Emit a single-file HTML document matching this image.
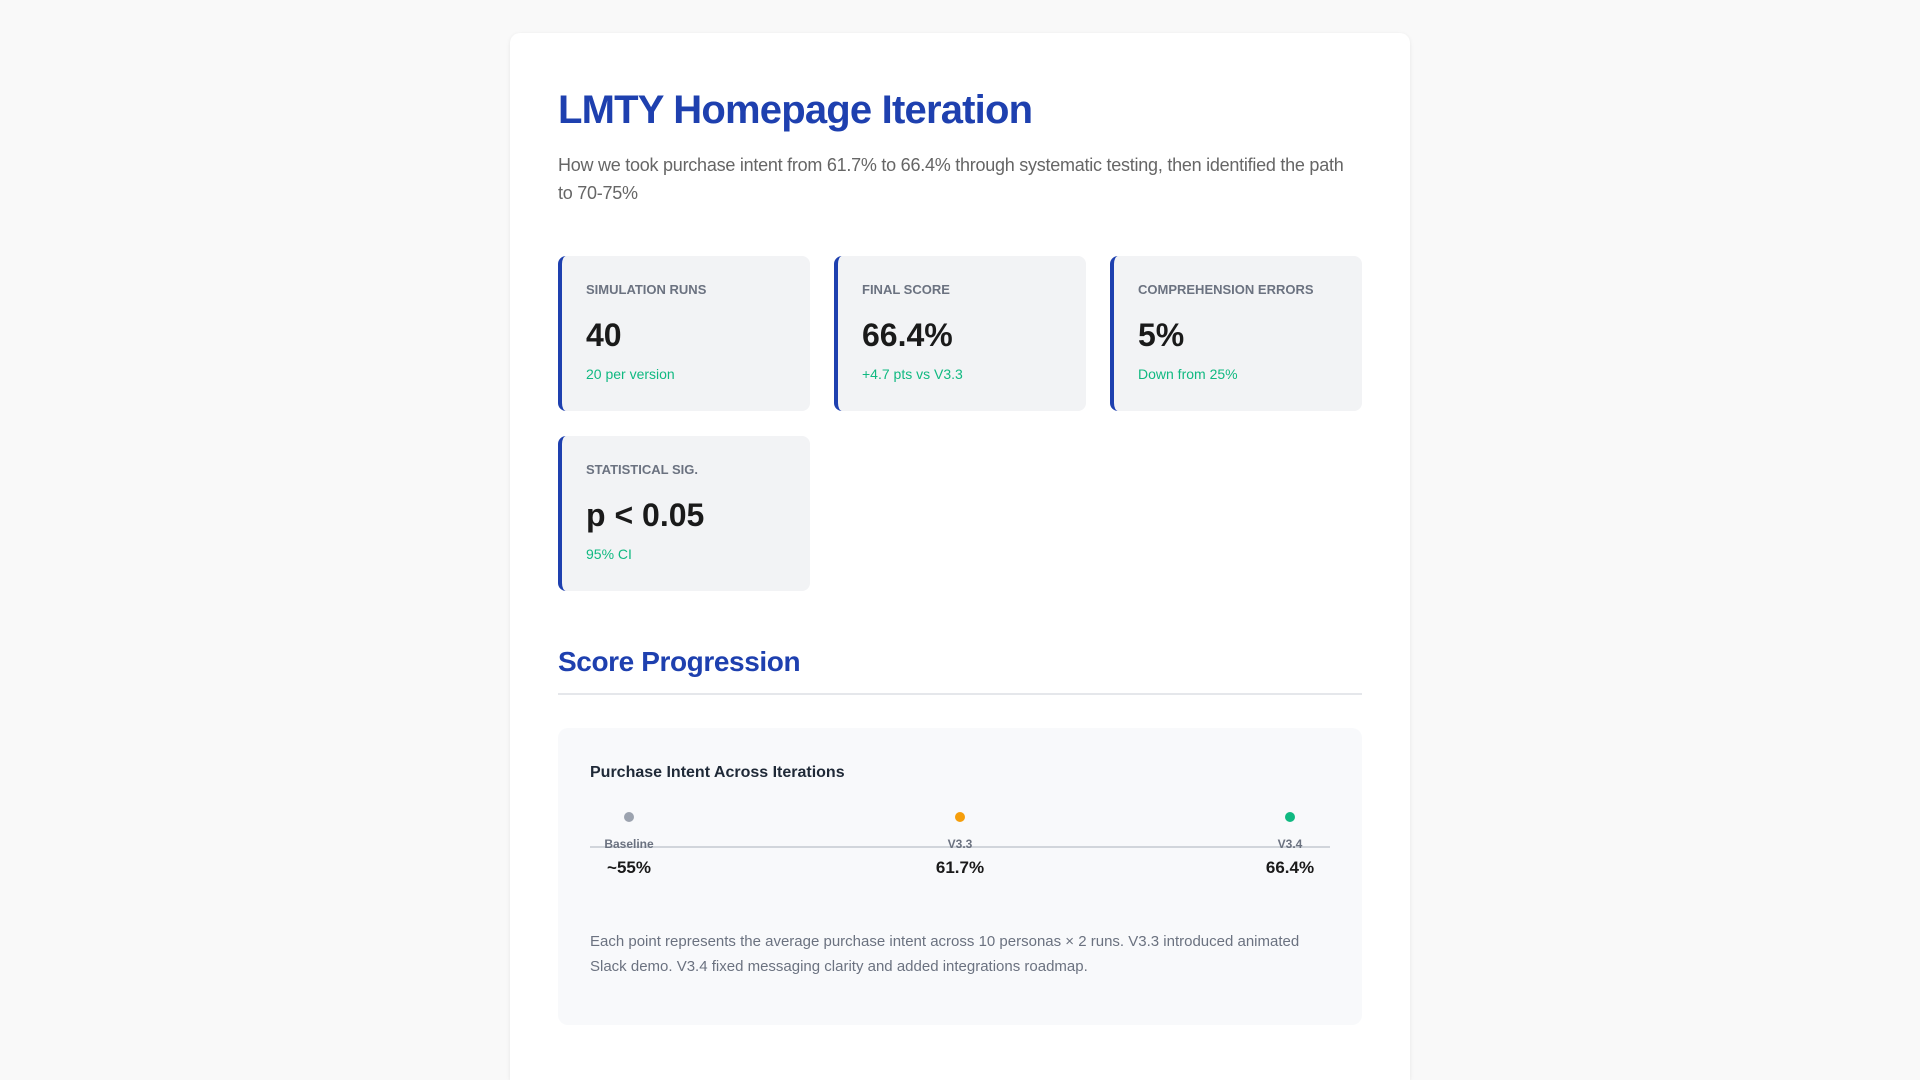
<!DOCTYPE html>
<html><head><meta charset="utf-8"><style>
*{box-sizing:border-box;margin:0;padding:0}
html,body{width:1920px;height:1080px;overflow:hidden}
body{background:#f9f9f9;font-family:"Liberation Sans",sans-serif;position:relative}
.card{position:absolute;left:510px;top:33px;width:900px;height:1047px;background:#fff;border-radius:10px 10px 0 0;box-shadow:0 1px 4px rgba(0,0,0,0.08);padding:0 48px;}
h1{position:absolute;left:48px;top:55px;font-size:40px;color:#1e40af;font-weight:bold;letter-spacing:-0.8px}
.sub{position:absolute;left:48px;top:118px;width:790px;font-size:18px;line-height:28px;color:#666;letter-spacing:-0.25px}
.stat{position:absolute;width:252px;height:155px;background:#f2f3f5;border-left:4px solid #1e40af;border-radius:8px;padding-left:24px}
.stat .l{position:absolute;top:26px;left:24px;font-size:13px;font-weight:bold;color:#6b7280}
.stat .v{position:absolute;top:61px;left:24px;font-size:32px;font-weight:bold;color:#1a1a1a}
.stat .s{position:absolute;top:110px;left:24px;font-size:14px;color:#10b981}
h2{position:absolute;left:48px;top:613px;font-size:28px;color:#1e40af;font-weight:bold;letter-spacing:-0.4px}
.hr{position:absolute;left:48px;top:660px;width:804px;height:2px;background:#e5e7eb}
.chart{position:absolute;left:48px;top:695px;width:804px;height:297px;background:#f8f9fb;border-radius:10px}
.ct{position:absolute;left:32px;top:36px;font-size:16px;font-weight:bold;color:#1f2937}
.axis{position:absolute;left:32px;top:118px;width:740px;height:2px;background:#d1d5db}
.pt{position:absolute;width:120px;margin-left:-60px;text-align:center}
.dot{width:10px;height:10px;border-radius:50%;margin:0 auto}
.pl{font-size:12px;font-weight:bold;color:#6b7280;margin-top:15px}
.pv{font-size:17px;font-weight:bold;color:#1a1a1a;margin-top:7px}
.fn{position:absolute;left:32px;top:201px;width:740px;font-size:15px;line-height:25px;color:#6b7280}
</style></head><body>
<div class="card">
<h1>LMTY Homepage Iteration</h1>
<div class="sub">How we took purchase intent from 61.7% to 66.4% through systematic testing, then identified the path to 70-75%</div>
<div class="stat" style="left:48px;top:223px"><div class="l">SIMULATION RUNS</div><div class="v">40</div><div class="s">20 per version</div></div>
<div class="stat" style="left:324px;top:223px"><div class="l">FINAL SCORE</div><div class="v">66.4%</div><div class="s">+4.7 pts vs V3.3</div></div>
<div class="stat" style="left:600px;top:223px"><div class="l">COMPREHENSION ERRORS</div><div class="v">5%</div><div class="s">Down from 25%</div></div>
<div class="stat" style="left:48px;top:403px"><div class="l">STATISTICAL SIG.</div><div class="v">p &lt; 0.05</div><div class="s">95% CI</div></div>
<h2>Score Progression</h2>
<div class="hr"></div>
<div class="chart">
<div class="ct">Purchase Intent Across Iterations</div>
<div class="axis"></div>
<div class="pt" style="left:71px;top:84px"><div class="dot" style="background:#9ca3af"></div><div class="pl">Baseline</div><div class="pv">~55%</div></div>
<div class="pt" style="left:402px;top:84px"><div class="dot" style="background:#f59e0b"></div><div class="pl">V3.3</div><div class="pv">61.7%</div></div>
<div class="pt" style="left:732px;top:84px"><div class="dot" style="background:#10b981"></div><div class="pl">V3.4</div><div class="pv">66.4%</div></div>
<div class="fn">Each point represents the average purchase intent across 10 personas × 2 runs. V3.3 introduced animated Slack demo. V3.4 fixed messaging clarity and added integrations roadmap.</div>
</div>
</div>
</body></html>
